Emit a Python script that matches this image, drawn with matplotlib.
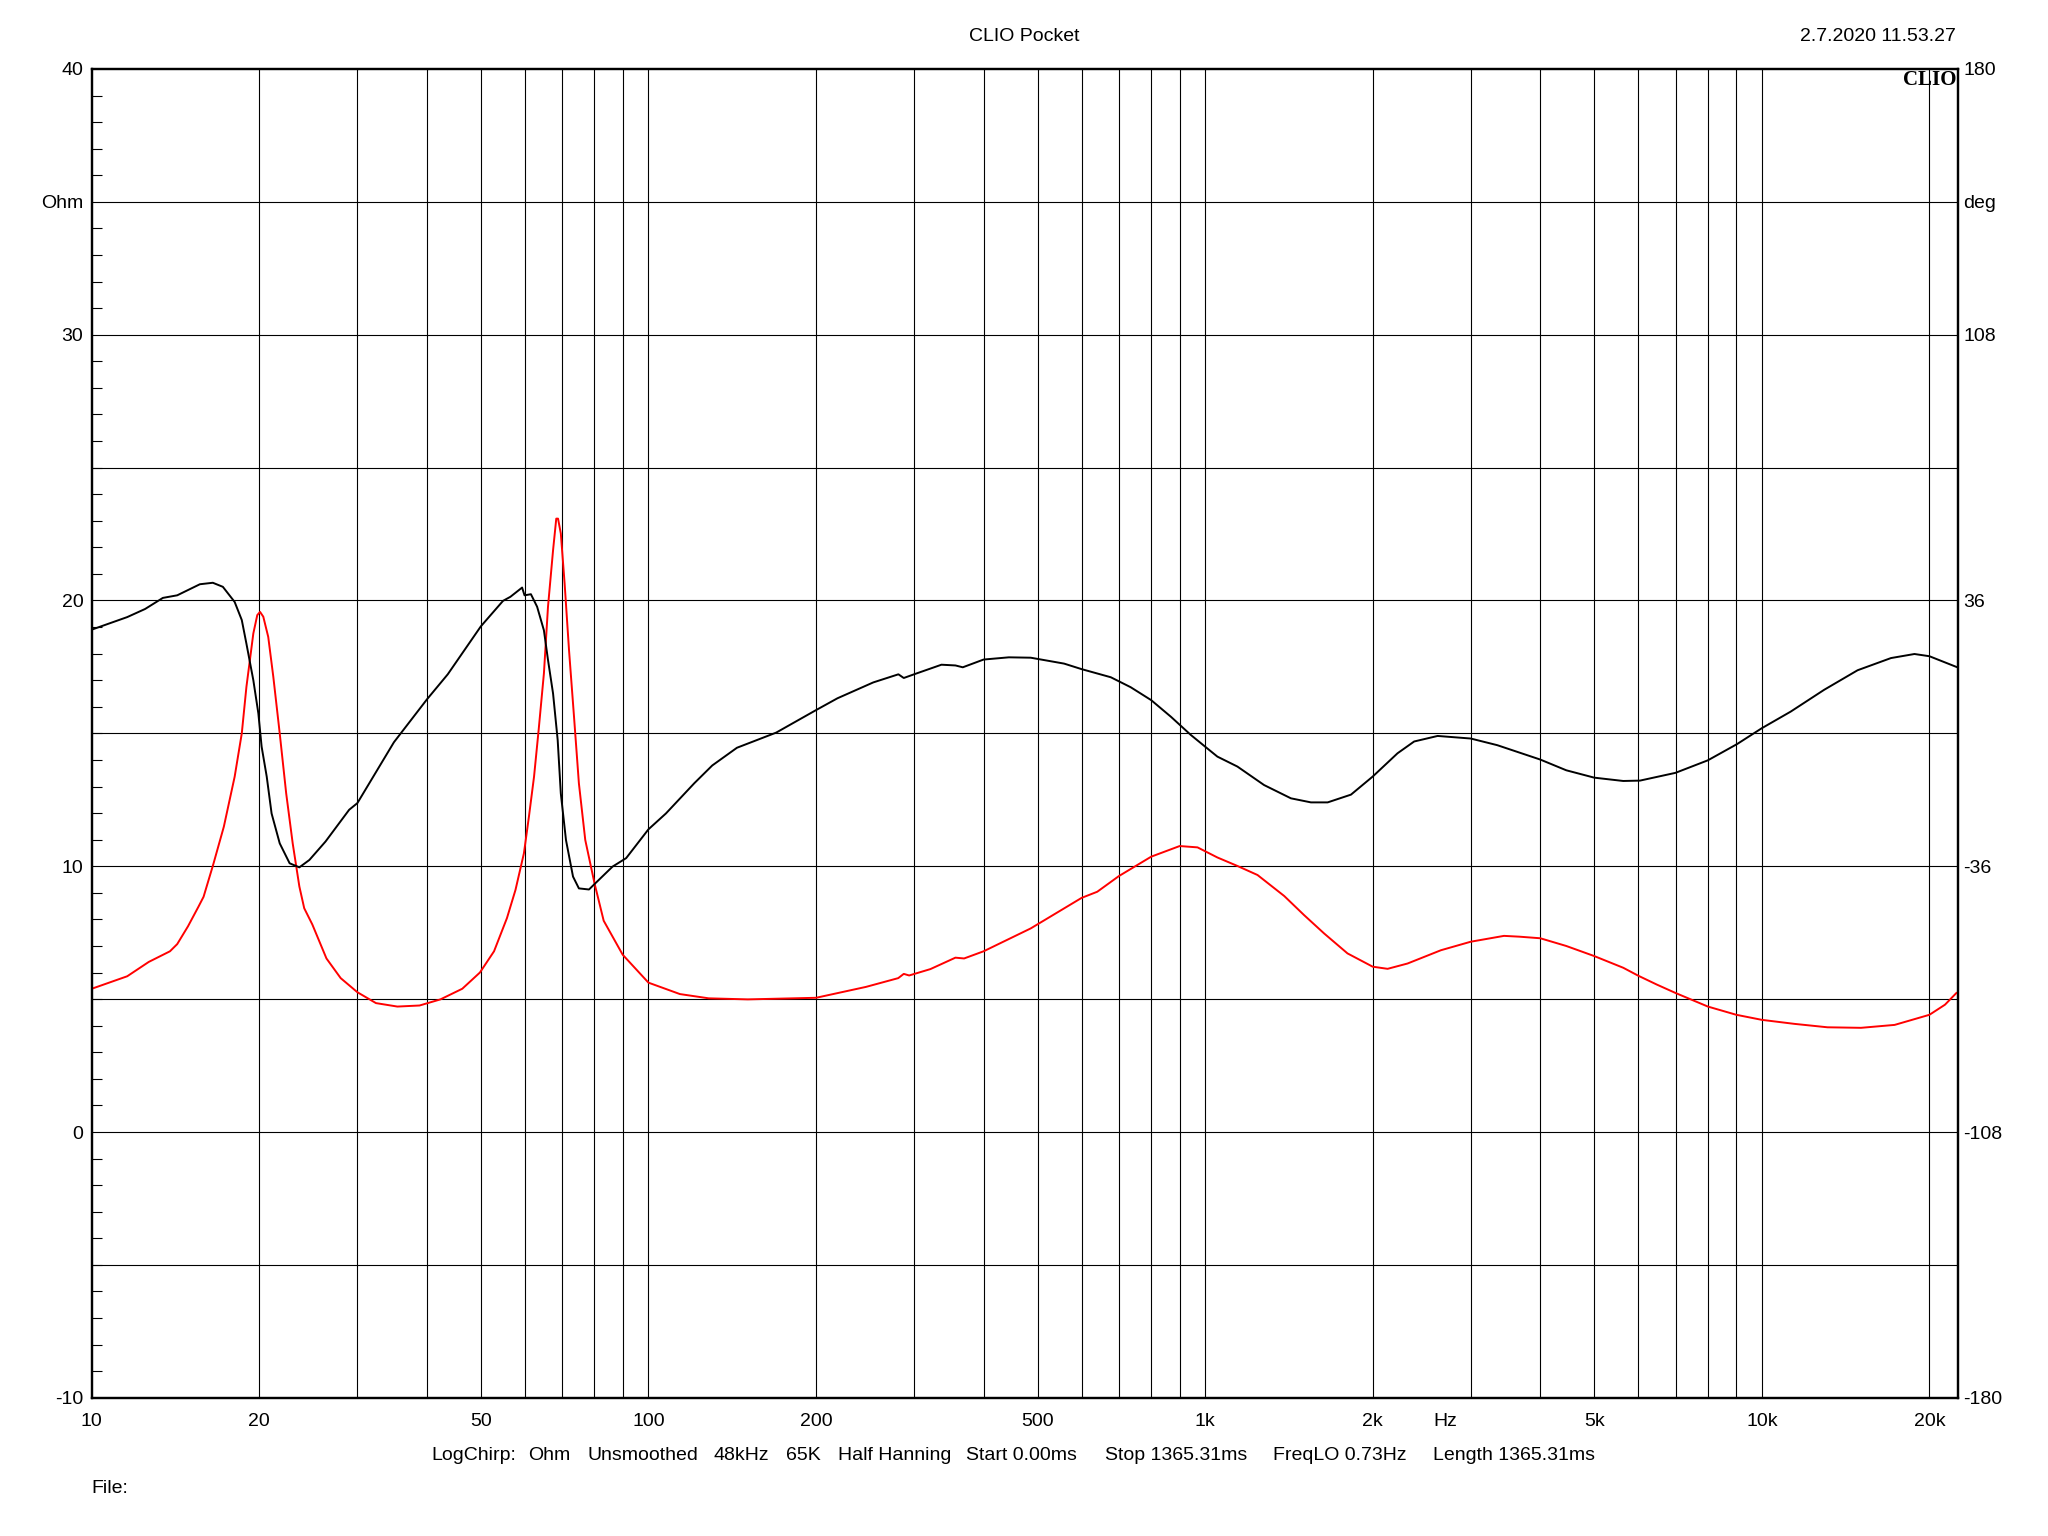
import matplotlib.pyplot as plt
from matplotlib.ticker import FixedLocator, MultipleLocator
from matplotlib.transforms import blended_transform_factory

OUTPUT = 'out.png'

# impedance magnitude (red), Ohm
imp_freq = [10, 11.58, 12.66, 13.82, 14.24, 14.89, 15.55, 15.88, 16.52, 17.27,
            18.06, 18.6, 18.96, 19.51, 19.83, 20.06, 20.33, 20.75, 21.19, 21.76,
            22.35, 22.96, 23.6, 24.08, 24.9, 26.4, 28.0, 30, 32.4, 35.4,
            38.8, 42.3, 46.3, 49.8, 52.8, 55.7, 57.7, 59.75, 61.0, 62.3,
            63.5, 64.9, 66.0, 67.4, 68.3, 68.8, 69.6, 70.7, 72.0, 73.5,
            75.0, 77.0, 80, 83.1, 89.9, 100, 113.9, 128.3, 150.8, 200,
            245.9, 281, 287.5, 294, 321, 356, 369, 400, 486, 600,
            640, 700, 800, 900, 969, 1052, 1143, 1242, 1387, 1506,
            1636, 1802, 2000, 2127, 2310, 2652, 3000, 3442, 3667, 4000,
            4453, 5000, 5180, 5637, 6000, 6473, 7000, 8000, 9000, 10000,
            11430, 13120, 15070, 17320, 20000, 21330, 22360]
imp_ohm = [5.39, 5.86, 6.4, 6.8, 7.07, 7.74, 8.48, 8.85, 10.05, 11.49,
           13.37, 15.0, 16.75, 18.76, 19.45, 19.57, 19.39, 18.63, 17.13, 15.0,
           12.74, 10.86, 9.24, 8.42, 7.81, 6.53, 5.79, 5.26, 4.85, 4.72,
           4.76, 4.99, 5.39, 6.0, 6.8, 8.05, 9.11, 10.49, 11.87, 13.37,
           15.13, 17.26, 19.76, 21.89, 23.08, 23.08, 22.52, 20.64, 18.13, 15.63,
           13.12, 10.99, 9.36, 7.95, 6.67, 5.62, 5.19, 5.03, 4.99, 5.05,
           5.46, 5.79, 5.95, 5.89, 6.13, 6.56, 6.53, 6.8, 7.66, 8.81,
           9.04, 9.63, 10.36, 10.76, 10.71, 10.33, 10.01, 9.67, 8.88, 8.16,
           7.47, 6.72, 6.22, 6.14, 6.34, 6.84, 7.16, 7.38, 7.35, 7.29,
           7.0, 6.62, 6.49, 6.18, 5.88, 5.55, 5.23, 4.72, 4.41, 4.22,
           4.07, 3.94, 3.92, 4.03, 4.41, 4.79, 5.23]

# impedance phase (black), degrees
phase_freq = [10, 11.58, 12.47, 13.42, 14.24, 15.64, 16.5, 17.2, 18.06, 18.6,
              18.96, 19.51, 19.92, 20.19, 20.62, 21.04, 21.76, 22.67, 23.6, 24.6,
              26.3, 29.0, 30, 34.9, 40, 43.6, 50, 54.8, 56.5, 59.3,
              59.9, 61.5, 63.1, 64.9, 66.0, 67.4, 68.7, 69.6, 71.1, 73.2,
              75.0, 78.2, 80.3, 86.2, 91.2, 100, 107.5, 120.9, 130.2, 144.2,
              169.6, 200, 218.5, 253.4, 281.2, 287.5, 300, 336, 356, 367,
              400, 444, 486, 558, 600, 677, 735, 800, 868, 942,
              1000, 1052, 1143, 1276, 1426, 1549, 1660, 1828, 2000, 2216,
              2374, 2616, 3000, 3348, 4000, 4453, 5000, 5637, 6041, 6995,
              8000, 9027, 10000, 11270, 12940, 14860, 17060, 18800, 20000, 22450]
phase_deg = [28.1, 31.5, 33.7, 36.7, 37.4, 40.4, 40.8, 39.7, 35.6, 30.7,
             24.3, 14.4, 5.4, -3.6, -11.7, -21.7, -29.8, -35.2, -36.3, -34.3,
             -29.3, -20.7, -18.9, -2.4, 9.2, 16.0, 29.0, 35.9, 37.0, 39.5,
             37.4, 37.7, 34.3, 27.9, 19.9, 10.8, -1.8, -16.3, -28.9, -38.8,
             -42.0, -42.3, -40.6, -36.1, -33.8, -26.0, -21.7, -13.5, -8.7, -3.9,
             0.2, 6.3, 9.5, 13.8, 16.0, 15.0, 16.0, 18.6, 18.4, 17.9,
             20.0, 20.6, 20.5, 18.9, 17.4, 15.2, 12.5, 9.0, 4.5, -0.4,
             -3.6, -6.3, -9.0, -14.0, -17.6, -18.7, -18.7, -16.6, -11.7, -5.4,
             -2.2, -0.7, -1.4, -3.2, -7.1, -10.0, -12.0, -12.9, -12.8, -10.7,
             -7.3, -2.9, 1.4, 5.9, 11.8, 17.1, 20.4, 21.5, 20.9, 17.9]

x_ticks = [10, 20, 50, 100, 200, 500, 1000, 2000, 5000, 10000, 20000]
x_labels = ['10', '20', '50', '100', '200', '500', '1k', '2k', '5k', '10k', '20k']
ohm_ticks = [-10, 0, 10, 20, 30, 35, 40]
ohm_labels = ['-10', '0', '10', '20', '30', 'Ohm', '40']
deg_ticks = [-180, -108, -36, 36, 108, 144, 180]
deg_labels = ['-180', '-108', '-36', '36', '108', 'deg', '180']

info_items = ['LogChirp:', 'Ohm', 'Unsmoothed', '48kHz', '65K', 'Half Hanning',
              'Start 0.00ms', 'Stop 1365.31ms', 'FreqLO 0.73Hz', 'Length 1365.31ms']
info_x = [0.2104, 0.2578, 0.2871, 0.3484, 0.3838, 0.4092, 0.4716, 0.5396, 0.6218, 0.6997]

plt.rcParams['font.family'] = ['Liberation Sans', 'DejaVu Sans']
plt.rcParams['font.size'] = 14


def draw_grid(ax):
    for dec in (10, 100, 1000, 10000):
        for m in range(1, 10):
            f = m * dec
            if 10 < f < 22500:
                ax.axvline(f, color='black', lw=0.8, zorder=1)
    for y in range(-5, 40, 5):
        ax.axhline(y, color='black', lw=0.8, zorder=1)


def main():
    fig = plt.figure(figsize=(20.48, 15.36), dpi=100)
    ax = fig.add_axes([0.0448, 0.0900, 0.9112, 0.8651])
    ax.set_xscale('log')
    ax.set_xlim(10, 22500)
    ax.set_ylim(-10, 40)
    draw_grid(ax)

    ax.plot(imp_freq, imp_ohm, color='#ff0000', lw=1.4, zorder=3)

    ax.xaxis.set_major_locator(FixedLocator(x_ticks))
    ax.set_xticklabels(x_labels)
    ax.xaxis.set_minor_locator(FixedLocator([]))
    ax.tick_params(axis='x', which='both', length=0, pad=11)
    trans = blended_transform_factory(ax.transData, ax.transAxes)
    ax.text(2700, -0.0115, 'Hz', transform=trans, ha='center', va='top')

    ax.set_yticks(ohm_ticks)
    ax.set_yticklabels(ohm_labels)
    ax.yaxis.set_minor_locator(MultipleLocator(1))
    ax.tick_params(axis='y', which='major', length=0, pad=6)
    ax.tick_params(axis='y', which='minor', direction='in', length=7,
                   width=0.8, left=True, right=True)

    ax2 = ax.twinx()
    ax2.set_ylim(-180, 180)
    ax2.plot(phase_freq, phase_deg, color='black', lw=1.4, zorder=3)
    ax2.set_yticks(deg_ticks)
    ax2.set_yticklabels(deg_labels)
    ax2.tick_params(axis='y', length=0, pad=4)

    for a in (ax, ax2):
        for sp in a.spines.values():
            sp.set_linewidth(1.6)

    ax.text(0.999, 0.999, 'CLIO', transform=ax.transAxes, ha='right', va='top',
            fontsize=15, fontweight='bold', family='Liberation Serif', zorder=5)

    fig.text(0.5, 0.9765, 'CLIO Pocket', ha='center', va='center')
    fig.text(0.955, 0.9765, '2.7.2020 11.53.27', ha='right', va='center')
    for label, x in zip(info_items, info_x):
        fig.text(x, 0.0527, label, ha='left', va='center')
    fig.text(0.0445, 0.0306, 'File:', ha='left', va='center')

    fig.savefig(OUTPUT, dpi=100)


if __name__ == '__main__':
    main()
